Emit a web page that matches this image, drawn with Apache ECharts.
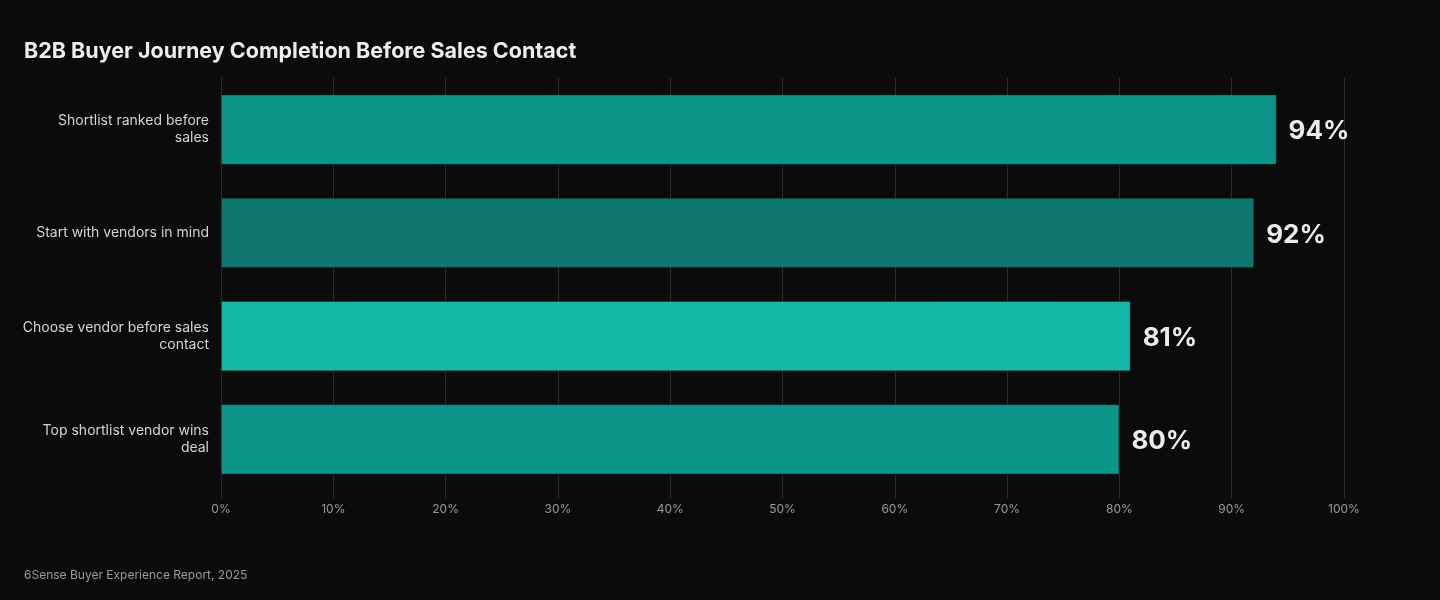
<!DOCTYPE html>
<html>
<head>
<meta charset="utf-8">
<script src="https://cdn.jsdelivr.net/npm/echarts@6/dist/echarts.min.js"></script>
<style>
  html, body { margin: 0; padding: 0; background: #0b0b0c; }
  #chart { width: 1440px; height: 600px; }
</style>
</head>
<body>
<div id="chart"></div>
<script>
// categories, top to bottom
const categories = [
  'Shortlist ranked before sales',
  'Start with vendors in mind',
  'Choose vendor before sales contact',
  'Top shortlist vendor wins deal'
];
const values = [94, 92, 81, 80];
const barColors = ['#0d9488', '#0f766e', '#14b8a6', '#0d9488'];

// word wrap by character count
function wrapLabel(text, maxChars) {
  const words = text.split(' ');
  const lines = [];
  let line = '';
  words.forEach(w => {
    const next = line ? line + ' ' + w : w;
    if (next.length > maxChars && line) {
      lines.push(line);
      line = w;
    } else {
      line = next;
    }
  });
  if (line) lines.push(line);
  return lines.join('\n');
}

const chart = echarts.init(document.getElementById('chart'));

const option = {
  backgroundColor: '#0b0b0c',
  textStyle: { fontFamily: 'Inter, sans-serif' },
  title: [
    {
      text: 'B2B Buyer Journey Completion Before Sales Contact',
      left: 24,
      top: 41,
      padding: 0,
      textStyle: { color: '#ededed', fontSize: 21.5, fontWeight: 'bold', fontFamily: 'Inter, sans-serif' }
    },
    {
      text: '6Sense Buyer Experience Report, 2025',
      left: 24,
      top: 569,
      padding: 0,
      textStyle: { color: '#9a9a9a', fontSize: 12, fontWeight: 'normal', fontFamily: 'Inter, sans-serif' }
    }
  ],
  grid: { left: 221, right: 96, top: 78, bottom: 109 },
  xAxis: {
    type: 'value',
    min: 0,
    max: 100,
    interval: 10,
    axisLabel: {
      formatter: '{value}%',
      color: '#9a9a9a',
      fontSize: 12,
      margin: 12
    },
    axisLine: { show: false },
    axisTick: { show: true, length: 7, lineStyle: { color: '#2c2c2e' } },
    splitLine: { show: true, lineStyle: { color: '#2c2c2e', width: 1 } }
  },
  yAxis: {
    type: 'category',
    inverse: true,
    data: categories,
    axisLine: { show: true, lineStyle: { color: '#2c2c2e' } },
    axisTick: { show: false },
    axisLabel: {
      color: '#d4d4d4',
      fontSize: 14,
      lineHeight: 17,
      margin: 12,
      align: 'right',
      formatter: v => wrapLabel(v, 26)
    }
  },
  series: [
    {
      type: 'bar',
      barWidth: '68%',
      data: values.map((v, i) => ({
        value: v,
        itemStyle: { color: barColors[i], borderColor: 'rgba(0,0,0,0.25)', borderWidth: 1 }
      })),
      label: {
        show: true,
        position: 'right',
        distance: 12,
        offset: [0, 2],
        formatter: '{c}%',
        color: '#ececec',
        fontSize: 26,
        fontWeight: 'bold',
        fontFamily: 'Inter, sans-serif'
      }
    }
  ]
};

chart.setOption(option);
</script>
</body>
</html>
